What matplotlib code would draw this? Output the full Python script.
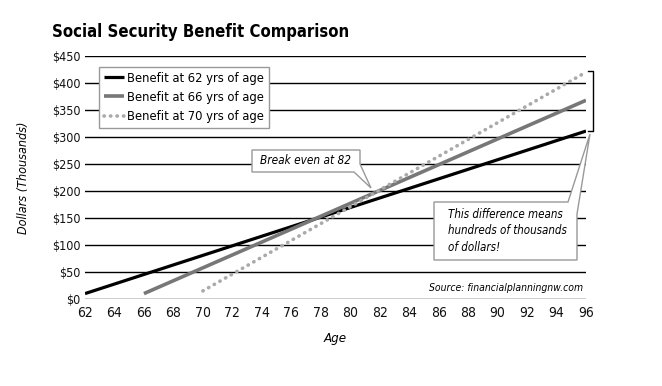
import matplotlib
matplotlib.use('Agg')
import matplotlib.pyplot as plt
from matplotlib.patches import Polygon

plt.rcParams['font.family'] = ['DejaVu Sans']
plt.rcParams['font.stretch'] = 'condensed'

W, H = 662, 386

# values (thousands of dollars, cumulative)
age62 = [62, 96]
ben62 = [10, 311]
age66 = [66, 96]
ben66 = [10, 368]
age70 = [70, 96]
ben70 = [15, 420]
labels = ['Benefit at 62 yrs of age', 'Benefit at 66 yrs of age', 'Benefit at 70 yrs of age']
xticks = list(range(62, 97, 2))
yticks = list(range(0, 451, 50))


def px(x, y):
    # pixel position of the reference -> figure fraction
    return (x / W, 1 - y / H)


fig = plt.figure(figsize=(W / 100, H / 100), dpi=100)
ax = fig.add_axes([85 / W, (H - 299) / H, 501 / W, 243 / H])

ax.plot(age62, ben62, color='black', lw=2.3, solid_capstyle='butt', label=labels[0])
ax.plot(age66, ben66, color='#777777', lw=2.6, solid_capstyle='butt', label=labels[1])
ax.plot(age70, ben70, color='#aaaaaa', lw=2.6, linestyle=(0, (0.1, 1.7)),
        dash_capstyle='round', label=labels[2])

ax.set_xlim(62, 96)
ax.set_ylim(0, 450)
ax.set_xticks(xticks)
ax.set_yticks(yticks)
ax.set_yticklabels(['${}'.format(v) for v in yticks])
ax.grid(axis='y', color='black', linewidth=1)
ax.set_axisbelow(True)
for s in ax.spines.values():
    s.set_visible(False)
ax.tick_params(axis='x', length=0, labelsize=10, colors='#111111', pad=5)
ax.tick_params(axis='y', length=0, labelsize=9, colors='#111111', pad=3)

ax.set_xlabel('Age', fontsize=9.5, style='italic', labelpad=9)
ax.set_ylabel('Dollars (Thousands)', fontsize=9, style='italic', labelpad=16)

fig.text(*px(52, 32), 'Social Security Benefit Comparison', fontsize=12,
         fontweight='bold', va='center', ha='left')

leg = ax.legend(loc='upper left', bbox_to_anchor=px(99, 67), bbox_transform=fig.transFigure,
                borderaxespad=0, fancybox=False, edgecolor='#999999', framealpha=1,
                fontsize=9.3, handlelength=1.6, handletextpad=0.25, labelspacing=0.5,
                borderpad=0.35)
leg.get_frame().set_linewidth(1)

# bracket spanning the end values
bx0, bx1 = 96.14, 96.47
ax.plot([bx0, bx1, bx1, bx0], [ben70[-1] + 2, ben70[-1] + 2, ben62[-1], ben62[-1]],
        color='black', lw=1, clip_on=False)

# callout boxes
c1 = Polygon([px(252, 150), px(360, 150), px(360, 164), px(371, 188), px(354, 172), px(252, 172)],
             closed=True, transform=fig.transFigure, facecolor='white', edgecolor='#999999', lw=1,
             zorder=5)
fig.add_artist(c1)
fig.text(*px(306, 161), 'Break even at 82', style='italic', fontsize=8.5,
         ha='center', va='center', zorder=6)

c2 = Polygon([px(434, 202), px(568, 202), px(590, 134), px(577, 214), px(577, 260), px(434, 260)],
             closed=True, transform=fig.transFigure, facecolor='white', edgecolor='#999999', lw=1,
             zorder=5)
fig.add_artist(c2)
fig.text(*px(448, 231), 'This difference means\nhundreds of thousands\nof dollars!', style='italic',
         fontsize=8.3, ha='left', va='center', linespacing=1.35, zorder=6)

fig.text(*px(583, 288), 'Source: financialplanningnw.com', style='italic', fontsize=7.5,
         ha='right', va='center')

fig.savefig('out.png', dpi=100)
